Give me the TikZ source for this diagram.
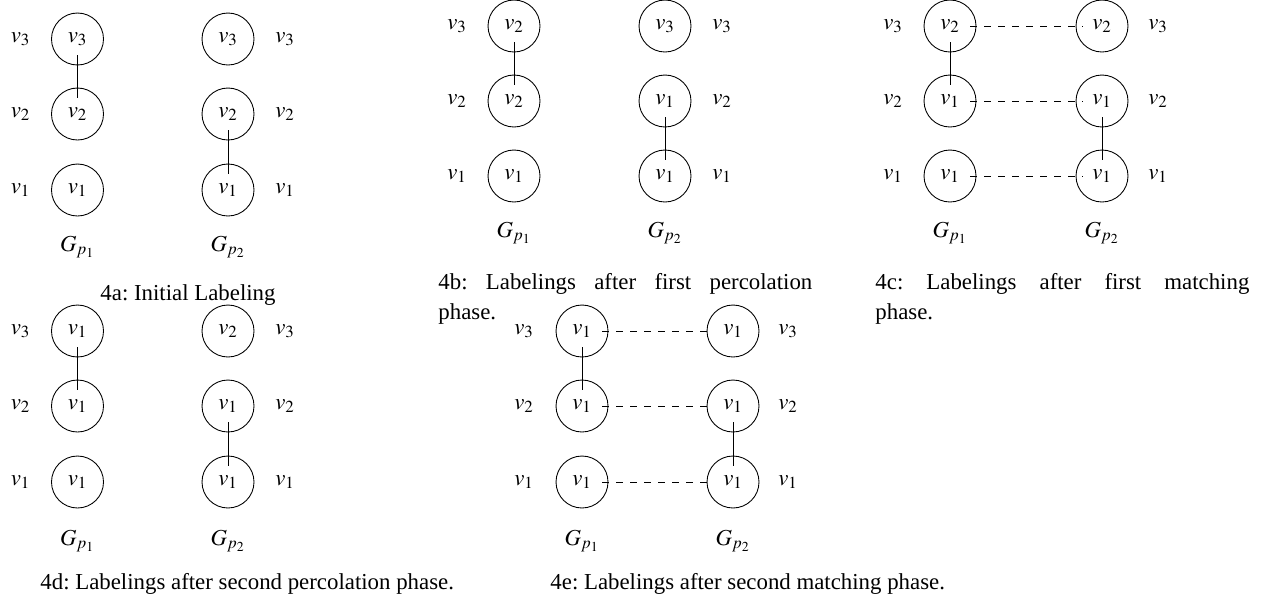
\documentclass[tikz,border=0pt]{standalone}
\usepackage{mathptmx}
\usepackage[no-math]{fontspec}
\setmainfont{Liberation Serif}
\usepackage{tikz}
\frenchspacing
\tikzset{
  vtx/.style={draw, circle, minimum size=1.04cm, inner sep=0pt},
  rowlab/.style={inner sep=0pt},
  glab/.style={anchor=base, inner sep=0pt},
  tree/.style={shorten <=0.32cm, shorten >=0.32cm},
  match/.style={dash pattern=on 4pt off 4pt, shorten <=0.4cm, shorten >=0.38cm},
  subcap/.style={anchor=base west, inner sep=0pt, text width=7.48cm, align=justify}
}

\begin{document}
\begin{tikzpicture}[x=0.02cm, y=-0.02cm, line width=0.5pt, font=\fontsize{13}{17.6}\selectfont]
  \useasboundingbox (0,0) rectangle (1263,606);

  \node[vtx] (aL3) at (77.5,39) {$v_3$};
  \node[vtx] (aL2) at (77.5,114) {$v_2$};
  \node[vtx] (aL1) at (77.5,190) {$v_1$};
  \node[vtx] (aR3) at (228,39) {$v_3$};
  \node[vtx] (aR2) at (228,114) {$v_2$};
  \node[vtx] (aR1) at (228,190) {$v_1$};
  \node[rowlab] (aLt3) at (20.5,39) {$v_3$};
  \node[rowlab] (aLt2) at (20.5,114) {$v_2$};
  \node[rowlab] (aLt1) at (20.5,190) {$v_1$};
  \node[rowlab] (aRt3) at (285,39) {$v_3$};
  \node[rowlab] (aRt2) at (285,114) {$v_2$};
  \node[rowlab] (aRt1) at (285,190) {$v_1$};
  \node[glab] (aG1) at (77.5,251) {$G_{p_1}$};
  \node[glab] (aG2) at (228,251) {$G_{p_2}$};
  \draw[tree] (aL3.center) -- (aL2.center);
  \draw[tree] (aR2.center) -- (aR1.center);
  \node[anchor=base, inner sep=0pt] (capa) at (188,300) {4a: Initial Labeling};

  \node[vtx] (bL3) at (514,26) {$v_2$};
  \node[vtx] (bL2) at (514,101) {$v_2$};
  \node[vtx] (bL1) at (514,176) {$v_1$};
  \node[vtx] (bR3) at (665,26) {$v_3$};
  \node[vtx] (bR2) at (665,101) {$v_1$};
  \node[vtx] (bR1) at (665,176) {$v_1$};
  \node[rowlab] (bLt3) at (457,26) {$v_3$};
  \node[rowlab] (bLt2) at (457,101) {$v_2$};
  \node[rowlab] (bLt1) at (457,176) {$v_1$};
  \node[rowlab] (bRt3) at (722,26) {$v_3$};
  \node[rowlab] (bRt2) at (722,101) {$v_2$};
  \node[rowlab] (bRt1) at (722,176) {$v_1$};
  \node[glab] (bG1) at (514,237) {$G_{p_1}$};
  \node[glab] (bG2) at (665,237) {$G_{p_2}$};
  \draw[tree] (bL3.center) -- (bL2.center);
  \draw[tree] (bR2.center) -- (bR1.center);
  \node[subcap] (capb) at (438,289) {4b: Labelings after first percolation \linebreak phase.};

  \node[vtx] (cL3) at (950,26) {$v_2$};
  \node[vtx] (cL2) at (950,101) {$v_1$};
  \node[vtx] (cL1) at (950,176) {$v_1$};
  \node[vtx] (cR3) at (1102,26) {$v_2$};
  \node[vtx] (cR2) at (1102,101) {$v_1$};
  \node[vtx] (cR1) at (1102,176) {$v_1$};
  \node[rowlab] (cLt3) at (893,26) {$v_3$};
  \node[rowlab] (cLt2) at (893,101) {$v_2$};
  \node[rowlab] (cLt1) at (893,176) {$v_1$};
  \node[rowlab] (cRt3) at (1158,26) {$v_3$};
  \node[rowlab] (cRt2) at (1158,101) {$v_2$};
  \node[rowlab] (cRt1) at (1158,176) {$v_1$};
  \node[glab] (cG1) at (950,237) {$G_{p_1}$};
  \node[glab] (cG2) at (1102,237) {$G_{p_2}$};
  \draw[tree] (cL3.center) -- (cL2.center);
  \draw[tree] (cR2.center) -- (cR1.center);
  \draw[match] (cL3.center) -- (cR3.center);
  \draw[match] (cL2.center) -- (cR2.center);
  \draw[match] (cL1.center) -- (cR1.center);
  \node[subcap] (capc) at (875,289) {4c: Labelings after first matching \linebreak phase.};

  \node[vtx] (dL3) at (77.5,331) {$v_1$};
  \node[vtx] (dL2) at (77.5,406) {$v_1$};
  \node[vtx] (dL1) at (77.5,482) {$v_1$};
  \node[vtx] (dR3) at (228,331) {$v_2$};
  \node[vtx] (dR2) at (228,406) {$v_1$};
  \node[vtx] (dR1) at (228,482) {$v_1$};
  \node[rowlab] (dLt3) at (20.5,331) {$v_3$};
  \node[rowlab] (dLt2) at (20.5,406) {$v_2$};
  \node[rowlab] (dLt1) at (20.5,482) {$v_1$};
  \node[rowlab] (dRt3) at (285,331) {$v_3$};
  \node[rowlab] (dRt2) at (285,406) {$v_2$};
  \node[rowlab] (dRt1) at (285,482) {$v_1$};
  \node[glab] (dG1) at (77.5,545) {$G_{p_1}$};
  \node[glab] (dG2) at (228,545) {$G_{p_2}$};
  \draw[tree] (dL3.center) -- (dL2.center);
  \draw[tree] (dR2.center) -- (dR1.center);
  \node[anchor=base west, inner sep=0pt] (capd) at (40,589) {4d: Labelings after second percolation phase.};

  \node[vtx] (eL3) at (582,331) {$v_1$};
  \node[vtx] (eL2) at (582,406) {$v_1$};
  \node[vtx] (eL1) at (582,482) {$v_1$};
  \node[vtx] (eR3) at (733,331) {$v_1$};
  \node[vtx] (eR2) at (733,406) {$v_1$};
  \node[vtx] (eR1) at (733,482) {$v_1$};
  \node[rowlab] (eLt3) at (524,331) {$v_3$};
  \node[rowlab] (eLt2) at (524,406) {$v_2$};
  \node[rowlab] (eLt1) at (524,482) {$v_1$};
  \node[rowlab] (eRt3) at (788,331) {$v_3$};
  \node[rowlab] (eRt2) at (788,406) {$v_2$};
  \node[rowlab] (eRt1) at (788,482) {$v_1$};
  \node[glab] (eG1) at (582,545) {$G_{p_1}$};
  \node[glab] (eG2) at (733,545) {$G_{p_2}$};
  \draw[tree] (eL3.center) -- (eL2.center);
  \draw[tree] (eR2.center) -- (eR1.center);
  \draw[match] (eL3.center) -- (eR3.center);
  \draw[match] (eL2.center) -- (eR2.center);
  \draw[match] (eL1.center) -- (eR1.center);
  \node[anchor=base west, inner sep=0pt] (cape) at (550,589) {4e: Labelings after second matching phase.};
\end{tikzpicture}
\end{document}
